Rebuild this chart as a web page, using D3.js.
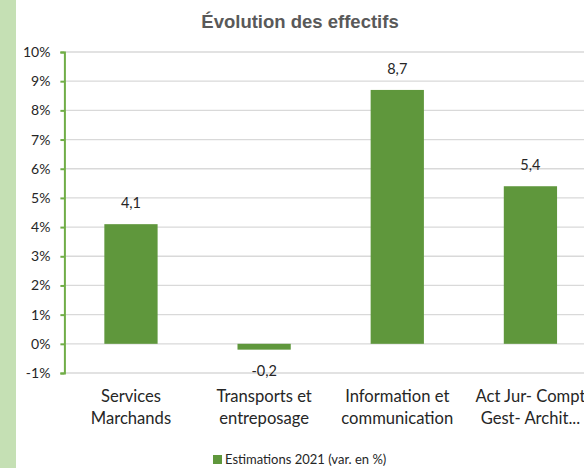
<!DOCTYPE html>
<html>
<head>
<meta charset="utf-8">
<script src="https://cdn.jsdelivr.net/npm/d3@7"></script>
<style>
	body { margin: 0; background: #fff; }
	svg { display: block; }
</style>
</head>
<body>
<div id="chart"></div>
<script>
// data
const categories = [
	['Services', 'Marchands'],
	['Transports et', 'entreposage'],
	['Information et', 'communication'],
	['Act Jur- Compt', 'Gest- Archit...']
];
const values = [4.1, -0.2, 8.7, 5.4];
const yTicks = [-1, 0, 1, 2, 3, 4, 5, 6, 7, 8, 9, 10];
const seriesName = 'Estimations 2021 (var. en %)';

const width = 584, height = 468;
const margin = { top: 52, left: 64.4, bottom: 95 };
const plotRight = 597;
const green = '#5F973C';
const font = 'Lato, Carlito, Calibri, sans-serif';

const svg = d3.select('#chart')
	.append('svg')
	.attr('width', width)
	.attr('height', height);

// left strip
svg.append('rect')
	.attr('x', 0).attr('y', 0)
	.attr('width', 16).attr('height', height)
	.attr('fill', '#C5E0B4');

// title
svg.append('text')
	.attr('x', 300).attr('y', 28)
	.attr('text-anchor', 'middle')
	.attr('font-family', 'Liberation Sans, Arial, sans-serif')
	.attr('font-weight', 'bold')
	.attr('font-size', 18.5)
	.attr('fill', '#595959')
	.text('Évolution des effectifs');

const x = d3.scaleBand()
	.domain(d3.range(categories.length))
	.range([margin.left, plotRight])
	.paddingInner(0.6)
	.paddingOuter(0.3);

const y = d3.scaleLinear()
	.domain([-1, 10])
	.range([373, 52]);

// gridlines
svg.append('g')
	.selectAll('line')
	.data(yTicks)
	.enter()
	.append('line')
		.attr('x1', margin.left).attr('x2', plotRight)
		.attr('y1', d => y(d)).attr('y2', d => y(d))
		.attr('stroke', '#D9D9D9')
		.attr('stroke-width', 1.3);

// bars
svg.append('g')
	.selectAll('rect')
	.data(values)
	.enter()
	.append('rect')
		.attr('x', (d, i) => x(i))
		.attr('width', x.bandwidth())
		.attr('y', d => y(Math.max(0, d)))
		.attr('height', d => Math.abs(y(d) - y(0)))
		.attr('fill', green);

// value labels
const fmt = d => d.toFixed(1).replace('.', ',');
svg.append('g')
	.selectAll('text')
	.data(values)
	.enter()
	.append('text')
		.attr('x', (d, i) => x(i) + x.bandwidth() / 2)
		.attr('y', d => d >= 0 ? y(d) - 16 : y(d) + 26)
		.attr('text-anchor', 'middle')
		.attr('font-family', font)
		.attr('font-size', 14.5)
		.attr('fill', '#262626')
		.text(fmt);

// y axis
const yAxis = d3.axisLeft(y)
	.tickValues(yTicks)
	.tickSize(4)
	.tickPadding(10)
	.tickFormat(d => d + '%');

const gy = svg.append('g')
	.attr('transform', `translate(${margin.left},0)`)
	.call(yAxis);
gy.select('.domain').attr('stroke', '#70AD47').attr('stroke-width', 2);
gy.selectAll('.tick line').attr('stroke', '#70AD47').attr('stroke-width', 2);
gy.selectAll('.tick text')
	.attr('font-family', font)
	.attr('font-size', 14)
	.attr('fill', '#262626');

// category labels
const cat = svg.append('g')
	.selectAll('text')
	.data(categories)
	.enter()
	.append('text')
		.attr('x', (d, i) => x(i) + x.bandwidth() / 2)
		.attr('y', 402)
		.attr('text-anchor', 'middle')
		.attr('font-family', font)
		.attr('font-size', 16.6)
		.attr('fill', '#262626');
cat.selectAll('tspan')
	.data(d => d)
	.enter()
	.append('tspan')
		.attr('x', function() { return this.parentNode.getAttribute('x'); })
		.attr('dy', (d, i) => i === 0 ? 0 : 22)
		.text(d => d);

// legend
const legend = svg.append('g').attr('transform', 'translate(213,455)');
legend.append('rect')
	.attr('x', 0).attr('y', 0)
	.attr('width', 9).attr('height', 9)
	.attr('fill', green);
legend.append('text')
	.attr('x', 12).attr('y', 9)
	.attr('font-family', font)
	.attr('font-size', 13)
	.attr('fill', '#262626')
	.text(seriesName);
</script>
</body>
</html>
